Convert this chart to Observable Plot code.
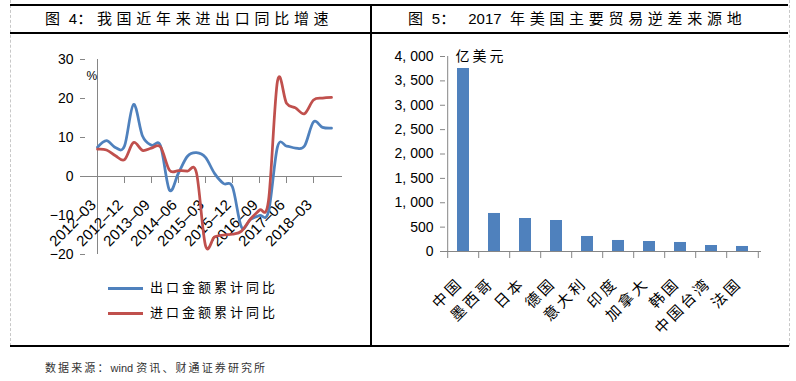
<!DOCTYPE html>
<html><head><meta charset="utf-8">
<script src="https://cdn.jsdelivr.net/npm/d3@7"></script>
<script src="https://cdn.jsdelivr.net/npm/@observablehq/plot@0.6"></script>
<style>
body{margin:0;background:#fff;}
#root{position:relative;width:796px;height:381px;overflow:hidden;font-family:"Liberation Sans","Noto Sans CJK SC",sans-serif;color:#000;}
.abs{position:absolute;}
.hl{position:absolute;background:#000;height:2px;}
.title{position:absolute;font-size:15px;white-space:pre;line-height:20px;}
.title .c{letter-spacing:4.7px;}
.leg{position:absolute;font-size:13px;white-space:pre;line-height:18px;}
.leg .c{letter-spacing:3px;}
#foot .c{letter-spacing:2.1px;}
.legline{position:absolute;width:35px;height:3px;}
#right g[font-family^="Noto"] text{letter-spacing:3px;}
</style></head><body><div id="root">
<div class="abs" style="left:10px;top:0;height:346px;border-left:1px dashed #c8c8c8;"></div>
<div class="abs" style="left:789px;top:0;height:346px;border-left:1px dashed #c8c8c8;"></div>
<div class="hl" style="left:10px;top:4px;width:778px;"></div>
<div class="hl" style="left:10px;top:32px;width:778px;"></div>
<div class="hl" style="left:10px;top:345px;width:779px;"></div>
<div class="abs" style="left:370px;top:4px;width:2px;height:343px;background:#000;"></div>
<div class="title" id="t1" style="left:45px;top:9px;"></div>
<div class="title" id="t2" style="left:408px;top:9px;"></div>
<div id="left" class="abs" style="left:0;top:40px;"></div>
<div id="right" class="abs" style="left:371px;top:40px;"></div>
<div class="legline" id="ll0" style="left:108px;top:287px;"></div>
<div class="leg" id="lt0" style="left:150px;top:279px;"></div>
<div class="legline" id="ll1" style="left:108px;top:312px;"></div>
<div class="leg" id="lt1" style="left:150px;top:304px;"></div>
<div class="abs" id="foot" style="left:45px;top:359px;font-size:11px;color:#333;white-space:pre;"></div>
</div>
<script>
// ---- Figure 4: China export / import cumulative YoY (%) ----
const titleLeft = "图 4：我国近年来进出口同比增速";
const titleRight = "图 5：  2017  年美国主要贸易逆差来源地";
const footNote = "数据来源：wind 资讯、财通证券研究所";
const quarters = ["2012-03","2012-06","2012-09","2012-12","2013-03","2013-06","2013-09","2013-12",
  "2014-03","2014-06","2014-09","2014-12","2015-03","2015-06","2015-09","2015-12",
  "2016-03","2016-06","2016-09","2016-12","2017-03","2017-06","2017-09","2017-12",
  "2018-03","2018-06","2018-09"];
const exportYoY = [7.5, 9.2, 7.4, 7.8, 18.5, 10.4, 8.0, 7.9, -3.5, 0.9, 5.2, 6.1, 4.9, 0.8, -1.8, -2.7,
  -13.0, -11.0, -10.0, -9.0, 7.6, 7.8, 7.3, 7.8, 14.0, 12.6, 12.4];
const importYoY = [7.0, 6.8, 5.3, 4.3, 8.7, 6.7, 7.3, 7.6, 1.6, 1.5, 1.4, 0.9, -17.7, -15.5, -15.0, -14.8,
  -14.0, -10.9, -8.6, -6.2, 24.5, 18.8, 17.6, 16.1, 19.6, 20.1, 20.3];
const seriesNames = ["出口金额累计同比", "进口金额累计同比"];
const seriesColors = ["#4F81BD", "#C0504D"];
const xTickLabels = ["2012-03","2012-12","2013-09","2014-06","2015-03","2015-12","2016-09","2017-06","2018-03"];
const yTicksLeft = [-20, -10, 0, 10, 20, 30];
const yUnitLeft = "%";

// ---- Figure 5: US trade deficit sources 2017 (100 million USD) ----
const countries = ["中国","墨西哥","日本","德国","意大利","印度","加拿大","韩国","中国台湾","法国"];
const deficits = [3754, 780, 677, 636, 308, 226, 205, 185, 123, 103];
const yTicksRight = [0, 500, 1000, 1500, 2000, 2500, 3000, 3500, 4000];
const yUnitRight = "亿美元";

const cjkRe = /[\u3000-\u303f\u4e00-\u9fff\uff00-\uffef]/;
function setRuns(id, text) {
  const el = document.getElementById(id);
  text.split(/([\u3000-\u303f\u4e00-\u9fff\uff00-\uffef]+)/).forEach(part => {
    if (!part) return;
    const s = document.createElement("span");
    if (cjkRe.test(part)) s.className = "c";
    s.textContent = part;
    el.appendChild(s);
  });
}
setRuns("t1", titleLeft);
setRuns("t2", titleRight);
setRuns("foot", footNote);
seriesNames.forEach((n, i) => {
  setRuns("lt" + i, n);
  document.getElementById("ll" + i).style.background = seriesColors[i];
});

const axisGray = "#868686";
const latin = "Liberation Sans, Arial, sans-serif";
const cjk = "Noto Sans CJK SC, sans-serif";

const leftData = quarters.flatMap((q, i) => [
  {q, v: exportYoY[i], s: seriesNames[0]},
  {q, v: importYoY[i], s: seriesNames[1]}
]);

const left = Plot.plot({
  width: 360, height: 240,
  marginLeft: 85, marginRight: 18, marginTop: 19, marginBottom: 26,
  style: {fontFamily: latin, fontSize: "14px", background: "transparent", overflow: "visible", color: "#000"},
  x: {type: "point", domain: quarters, padding: 0, axis: null},
  y: {domain: [yTicksLeft[0], yTicksLeft.at(-1)], axis: null, label: null},
  color: {domain: seriesNames, range: seriesColors},
  marks: [
    Plot.ruleY([0], {stroke: axisGray}),
    Plot.ruleX([quarters[0]], {y1: yTicksLeft[0], y2: yTicksLeft.at(-1), stroke: axisGray}),
    Plot.ruleX(xTickLabels, {x: d => d, y1: 0, y2: -1.8, stroke: axisGray}),
    Plot.axisY({ticks: yTicksLeft, label: null, tickSize: 5, tickPadding: 7, stroke: axisGray, fill: "#000", fontSize: 14, tickFormat: d => d < 0 ? "−" + (-d) : String(d)}),
    Plot.text(xTickLabels, {x: d => d, y: 0, text: d => d.replace("-", "–"), rotate: -45, textAnchor: "end", dx: -4, dy: 26, fontSize: 15, fill: "#000"}),
    Plot.lineY(leftData, {x: "q", y: "v", stroke: "s", strokeWidth: 2.75, curve: "cardinal"}),
    Plot.text([yUnitLeft], {frameAnchor: "top-left", text: d => d, dx: 1, dy: 12, fontSize: 12, fill: "#000"})
  ]
});
document.getElementById("left").appendChild(left);

const stepPx = (425 - 74 - 35) / countries.length;
const right = Plot.plot({
  width: 425, height: 300,
  marginLeft: 74, marginRight: 35, marginTop: 16, marginBottom: 89,
  style: {fontFamily: latin, fontSize: "14px", background: "transparent", overflow: "visible", color: "#000"},
  x: {type: "band", domain: countries, paddingInner: 0.61, paddingOuter: 0.305, axis: null},
  y: {domain: [yTicksRight[0], yTicksRight.at(-1)], axis: null, label: null},
  marks: [
    Plot.barY(countries, {x: d => d, y: (d, i) => deficits[i], fill: "#4F81BD"}),
    Plot.ruleY([0], {stroke: axisGray}),
    Plot.ruleX([countries[0]], {x: d => d, y1: -144, y2: yTicksRight.at(-1), dx: -stepPx / 2, stroke: axisGray}),
    Plot.ruleX(countries.slice(1), {x: d => d, y1: 0, y2: -144, dx: -stepPx / 2, stroke: axisGray}),
    Plot.ruleX([countries.at(-1)], {x: d => d, y1: 0, y2: -144, dx: stepPx / 2, stroke: axisGray}),
    Plot.axisY({ticks: yTicksRight, label: null, tickSize: 5, tickPadding: 7, stroke: axisGray, fill: "#000", fontSize: 14,
      tickFormat: d => d3.format(",")(d).replace(",", ", ")}),
    Plot.text(countries, {x: d => d, y: 0, text: d => d, rotate: -45, textAnchor: "end", dx: -3, dy: 29, fontSize: 15, fontFamily: cjk, fill: "#000"}),
    Plot.text([yUnitRight], {frameAnchor: "top-left", text: d => d, textAnchor: "start", dx: 10, dy: -5, fontSize: 14, fontFamily: cjk, fill: "#000"})
  ]
});
document.getElementById("right").appendChild(right);
</script>
</body></html>
